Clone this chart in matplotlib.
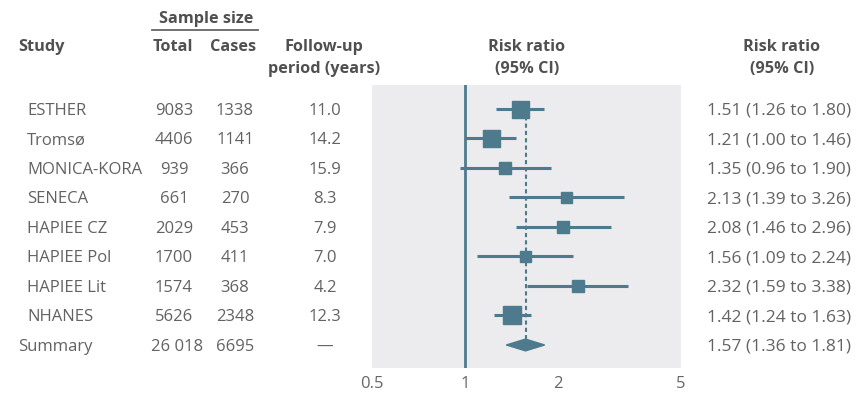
import matplotlib
matplotlib.use("Agg")
import matplotlib.pyplot as plt
from matplotlib.transforms import blended_transform_factory
from matplotlib.patches import Polygon

plt.rcParams['font.family'] = ['Open Sans', 'DejaVu Sans']

studies = ["ESTHER", "Tromsø", "MONICA-KORA", "SENECA", "HAPIEE CZ",
           "HAPIEE Pol", "HAPIEE Lit", "NHANES"]
totals = ["9083", "4406", "939", "661", "2029", "1700", "1574", "5626"]
cases = ["1338", "1141", "366", "270", "453", "411", "368", "2348"]
followup = ["11.0", "14.2", "15.9", "8.3", "7.9", "7.0", "4.2", "12.3"]
rr = [1.51, 1.21, 1.35, 2.13, 2.08, 1.56, 2.32, 1.42]
lo = [1.26, 1.00, 0.96, 1.39, 1.46, 1.09, 1.59, 1.24]
hi = [1.80, 1.46, 1.90, 3.26, 2.96, 2.24, 3.38, 1.63]
summary_label = "Summary"
summary_total = "26 018"
summary_cases = "6695"
summary_followup = "—"
summary_rr, summary_lo, summary_hi = 1.57, 1.36, 1.81
xticks = [0.5, 1, 2, 5]
xticklabels = ["0.5", "1", "2", "5"]
square_px = [17, 17, 12, 11, 12, 11, 12, 18]

W, H = 861, 394
fig = plt.figure(figsize=(W / 100, H / 100), dpi=100)
fig.patch.set_facecolor("white")
ax = fig.add_axes([372 / W, (H - 368) / H, (681 - 372) / W, (368 - 85) / H])
ax.set_facecolor("#ecebed")
for s in ax.spines.values():
    s.set_visible(False)
ax.set_xscale("log")
ax.set_xlim(0.5, 5)
n = len(studies)
ax.set_ylim(n + 0.78, -0.81)
ax.set_yticks([])
ax.set_xticks(xticks)
ax.set_xticklabels(xticklabels)
ax.minorticks_off()
ax.tick_params(axis="x", length=0, pad=6, labelsize=12, labelcolor="#666666")

col = "#4d7b8d"
ax.axvline(1, color=col, lw=2, zorder=2)
ax.plot([summary_rr, summary_rr], [0, n], color=col, lw=1.5, ls=(0, (2, 1.5)), zorder=2)
for i in range(n):
    ax.plot([lo[i], hi[i]], [i, i], color=col, lw=2.2, zorder=3, solid_capstyle="butt")
    ax.plot(rr[i], i, marker="s", ms=square_px[i] * 0.72, color=col, mec=col, zorder=4)
dh = 0.2
diamond = Polygon([(summary_lo, n), (summary_rr, n - dh), (summary_hi, n), (summary_rr, n + dh)],
                  closed=True, color=col, zorder=4)
ax.add_patch(diamond)

tr = blended_transform_factory(fig.transFigure, ax.transData)
txt = "#626262"
fs = 12
fs_ci = 12.5
va = "center_baseline"
for i in range(n):
    fig.text(27 / W, i, studies[i], transform=tr, ha="left", va=va, fontsize=fs, color=txt)
    fig.text(174 / W, i, totals[i], transform=tr, ha="center", va=va, fontsize=fs, color=txt)
    fig.text(235 / W, i, cases[i], transform=tr, ha="center", va=va, fontsize=fs, color=txt)
    fig.text(325 / W, i, followup[i], transform=tr, ha="center", va=va, fontsize=fs, color=txt)
    fig.text(707 / W, i, f"{rr[i]:.2f} ({lo[i]:.2f} to {hi[i]:.2f})", transform=tr,
             ha="left", va=va, fontsize=fs_ci, color=txt)
fig.text(18 / W, n, summary_label, transform=tr, ha="left", va=va, fontsize=fs, color=txt)
fig.text(177 / W, n, summary_total, transform=tr, ha="center", va=va, fontsize=fs, color=txt)
fig.text(235 / W, n, summary_cases, transform=tr, ha="center", va=va, fontsize=fs, color=txt)
fig.text(325 / W, n, summary_followup, transform=tr, ha="center", va=va, fontsize=fs, color=txt)
fig.text(707 / W, n, f"{summary_rr:.2f} ({summary_lo:.2f} to {summary_hi:.2f})", transform=tr,
         ha="left", va=va, fontsize=fs_ci, color=txt)

hc = "#505050"
hfs = 11.7
def htext(x, y, s, ha="center"):
    fig.text(x / W, 1 - y / H, s, ha=ha, va="center_baseline", fontsize=hfs, color=hc, fontweight="bold")

htext(206, 17, "Sample size")
fig.add_artist(plt.Line2D([152 / W, 258 / W], [1 - 30 / H, 1 - 30 / H], color="#666666", lw=1.3))
htext(18, 45, "Study", ha="left")
htext(173, 45, "Total")
htext(233, 45, "Cases")
htext(324, 45, "Follow-up")
htext(324, 67, "period (years)")
htext(527, 45, "Risk ratio")
htext(527, 67, "(95% CI)")
htext(782, 45, "Risk ratio")
htext(782, 67, "(95% CI)")

fig.savefig("out.png", dpi=100)
